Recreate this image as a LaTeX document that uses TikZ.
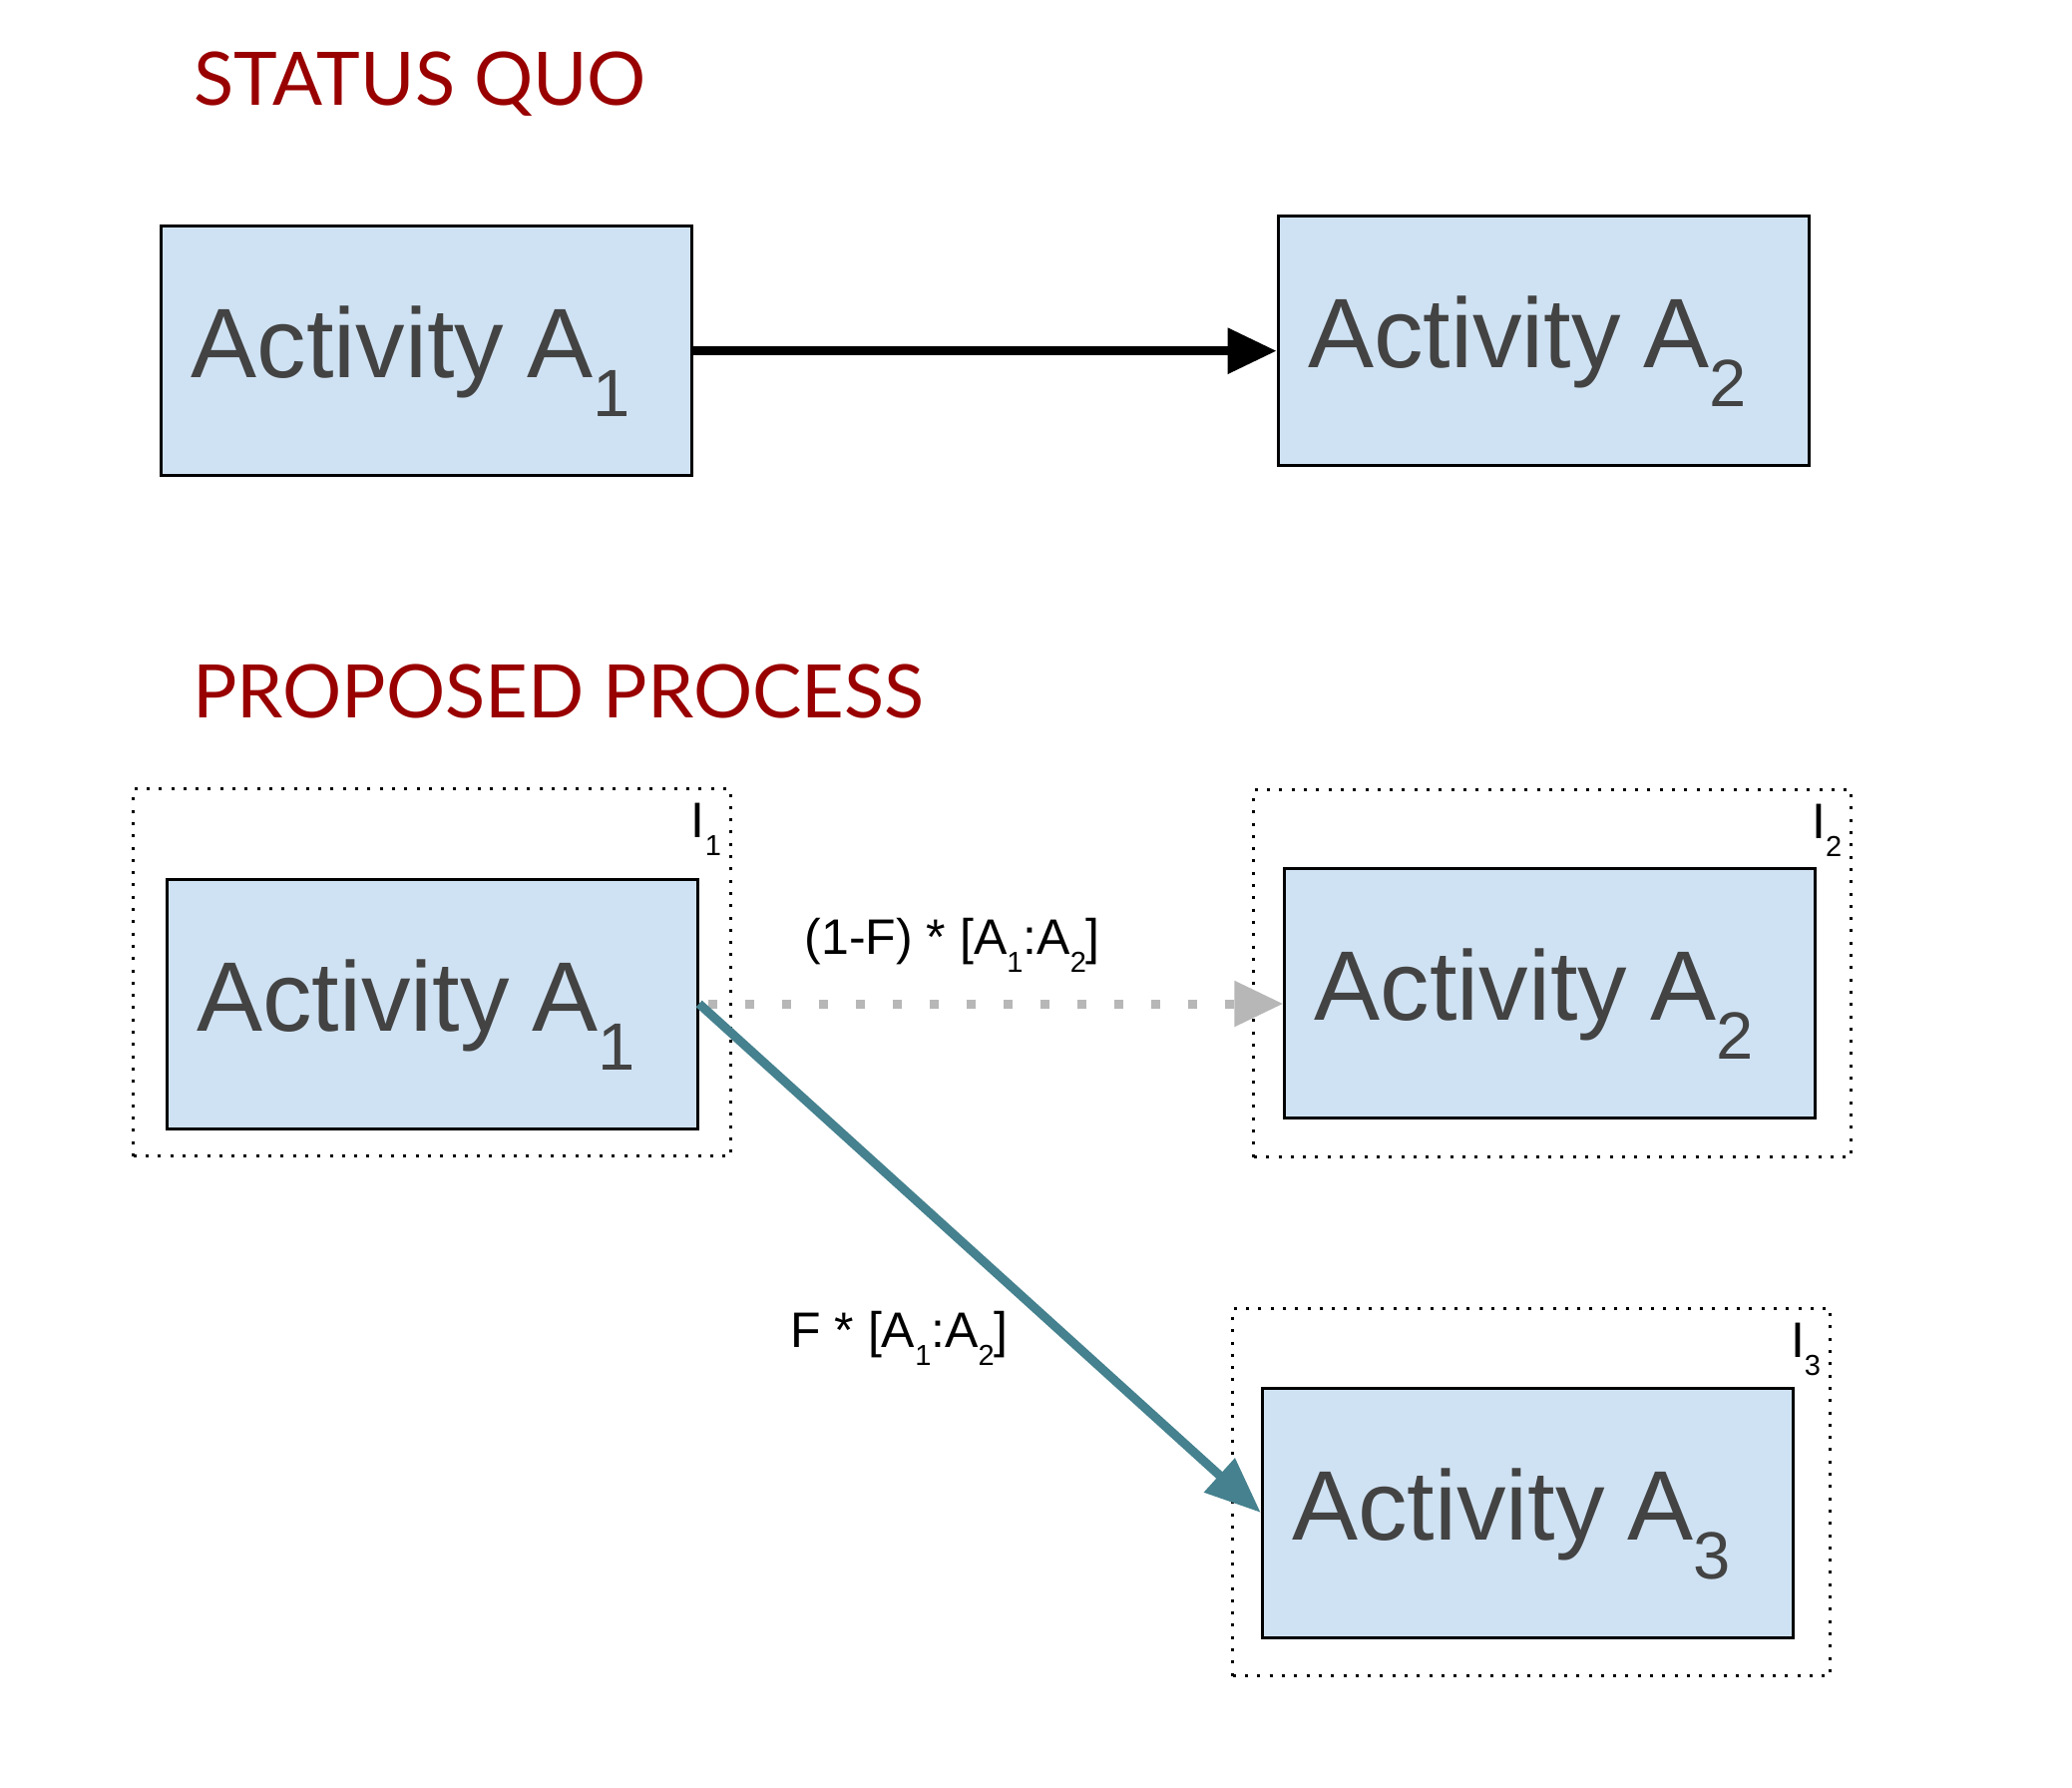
\documentclass[tikz,border=0pt]{standalone}
\usepackage{fontspec}
\setmainfont{Liberation Sans}
\newfontfamily\latofont{Lato}
\usetikzlibrary{arrows.meta}
\definecolor{hred}{HTML}{990000}
\definecolor{boxfill}{HTML}{CFE2F3}
\definecolor{boxtext}{HTML}{434343}
\definecolor{lgray}{HTML}{B7B7B7}
\definecolor{dcyan}{HTML}{45818E}
\newcommand\bigsub[1]{\raisebox{-39pt}{\fontsize{67pt}{67pt}\selectfont #1}}
\newcommand\smsub[1]{\raisebox{-18pt}{\fontsize{29pt}{29pt}\selectfont #1}}
\newcommand\actlbl[1]{Activity\hspace{23pt}A\bigsub{#1}}
\tikzset{flowdiag/.style={x=1pt,y=-1pt},
  heading/.style={anchor=base west,inner sep=0pt,text=hred,font=\latofont\fontsize{74pt}{80pt}\selectfont},
  actbox/.style={draw=black,line width=3pt,fill=boxfill,text=boxtext,minimum height=250pt,
    text width=472pt,inner xsep=30pt,align=left,text height=80pt,text depth=26pt,
    font=\fontsize{99pt}{110pt}\selectfont},
  grpbox/.style={draw=black,line width=3pt,dash pattern=on 3pt off 9.3pt,minimum width=599pt,
    minimum height=368pt,inner sep=0pt},
  grplbl/.style={anchor=base east,inner sep=0pt,font=\fontsize{50pt}{55pt}\selectfont},
  flowlbl/.style={anchor=base,inner sep=0pt,font=\fontsize{50pt}{55pt}\selectfont},
  tip/.style={-{Triangle[length=#1,width=44pt]}}}

\begin{document}
\begin{tikzpicture}[flowdiag]
    \useasboundingbox (0,0) rectangle (2077,1791);
    % status quo
    \node[heading] (hdsq) at (194,105) {STATUS QUO};
    \node[actbox] (sqA1) at (427.9,351.7) {\actlbl{1}};
    \node[actbox] (sqA2) at (1547.2,341.1) {\actlbl{2}};
    \draw[line width=9pt,tip=49pt] (sqA1.east) -- (sqA1.east -| sqA2.west);
    % proposed process
    \node[heading] (hdpp) at (193,719) {PROPOSED PROCESS};
    \node[grpbox] (grpI1) at (433.2,974.9) {};
    \node[grpbox] (grpI2) at (1556.4,975.5) {};
    \node[grpbox] (grpI3) at (1535.3,1495.5) {};
    \node[grplbl] (lblI1) at ([xshift=-11pt,yshift=-50pt]grpI1.north east) {I\smsub{1}};
    \node[grplbl] (lblI2) at ([xshift=-11pt,yshift=-50pt]grpI2.north east) {I\smsub{2}};
    \node[grplbl] (lblI3) at ([xshift=-11pt,yshift=-50pt]grpI3.north east) {I\smsub{3}};
    \node[actbox] (ppA1) at (433.2,1006) {\actlbl{1}};
    \node[actbox] (ppA2) at (1553.8,995.5) {\actlbl{2}};
    \node[actbox] (ppA3) at (1531.3,1516) {\actlbl{3}};
    \draw[lgray,line width=9pt,dash pattern=on 9pt off 28pt,dash phase=28pt,tip=49pt]
        (ppA1.east) -- (ppA1.east -| ppA2.west);
    \draw[dcyan,line width=9pt,tip=56pt] (ppA1.east) -- (ppA3.west);
    \node[flowlbl] (lblskip) at (954.7,956) {(1-F) * [A\smsub{1}:A\smsub{2}]};
    \node[flowlbl] (lblfeed) at (901.5,1350.7) {F * [A\smsub{1}:A\smsub{2}]};
\end{tikzpicture}
\end{document}
